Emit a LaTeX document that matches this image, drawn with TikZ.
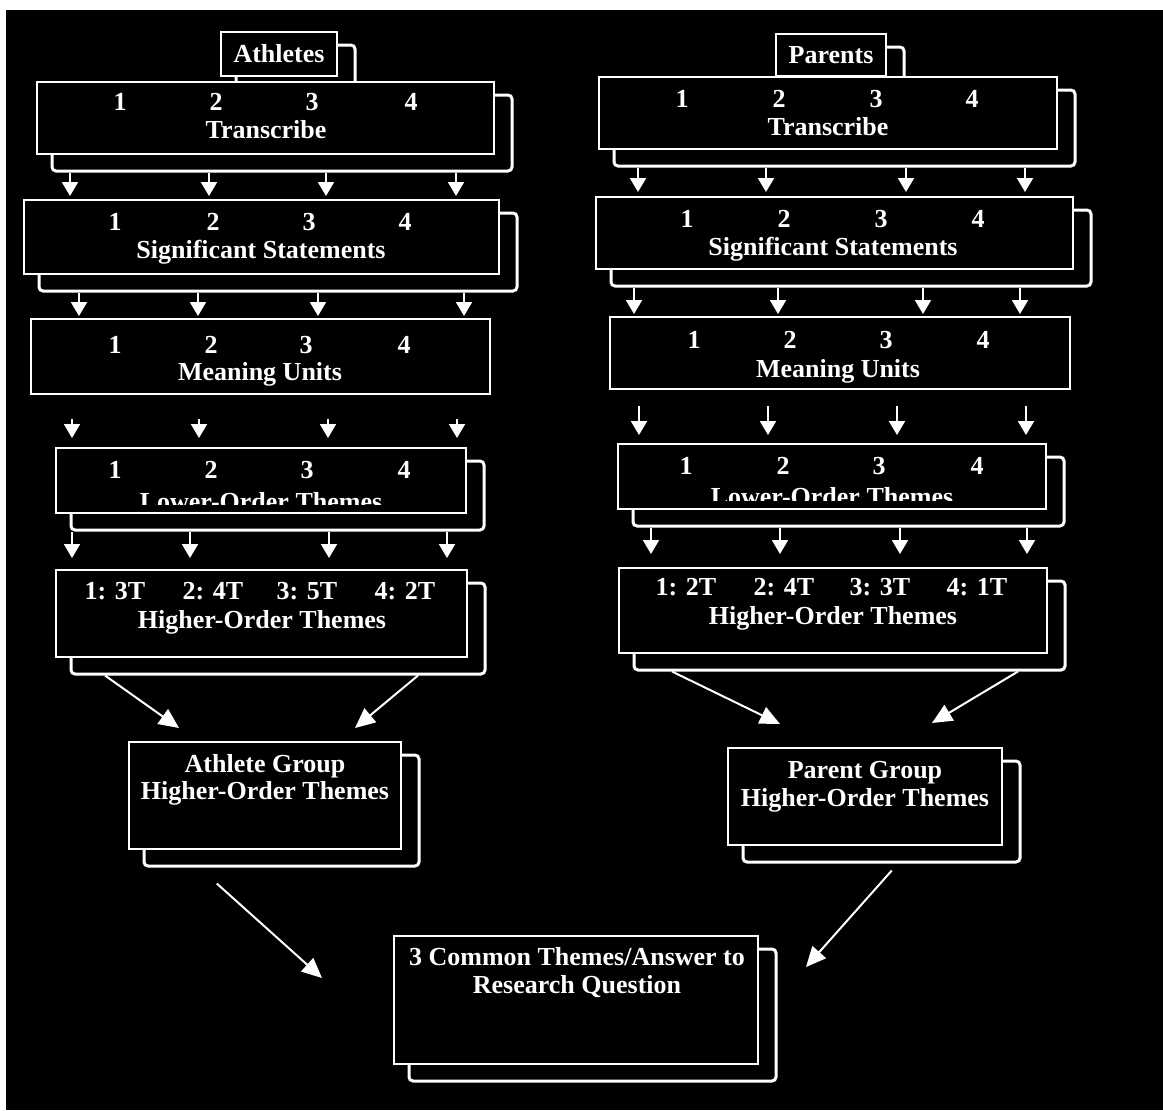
\documentclass[tikz,border=0pt]{standalone}
\usepackage{fontspec}
\setmainfont{Liberation Serif}
\usetikzlibrary{arrows.meta}
\usetikzlibrary{fit}

\tikzset{
	frontbox/.style={draw=white, fill=black, line width=1pt, inner sep=0pt},
	shadowbox/.style={draw=white, line width=1.5pt, rounded corners=2pt, inner sep=0pt},
	txt/.style={text=white, anchor=base, inner sep=0pt, font=\fontsize{13}{16}\selectfont\bfseries},
	arr/.style={draw=white, line width=1pt, -{Triangle[width=8pt,length=7pt]}},
	bigarr/.style={draw=white, line width=1pt, -{Triangle[width=9pt,length=10pt]}}
}

% box with a second sheet behind it
\newcommand\stackbox[5]{%
	\node[shadowbox, fit={(#2+15,#3+13) (#4+18,#5+17)}] (#1sh) {};
	\node[frontbox, fit={(#2,#3) (#4,#5)}] (#1) {};
}

\begin{document}
\begin{tikzpicture}[x=0.5pt, y=-0.5pt]
	\useasboundingbox (0,0) rectangle (1163,1110);
	\fill[white] (0,0) rectangle (1163,1110);
	\fill[black] (6,10) rectangle (1163,1110);

	% athletes
	\stackbox{athA}{221}{32}{337}{76}
	\node[txt] at (279,62) {Athletes};
	\stackbox{trA}{37}{82}{494}{154}
	\foreach \x/\n in {120/1,216/2,312/3,411/4} \node[txt] at (\x,110) {\n};
	\node[txt] at (266,138) {Transcribe};
	\stackbox{ssA}{24}{200}{499}{274}
	\foreach \x/\n in {115/1,213/2,309/3,405/4} \node[txt] at (\x,230) {\n};
	\node[txt] at (261,258) {Significant Statements};
	\node[frontbox, fit={(31,319) (490,394)}] (muA) {};
	\foreach \x/\n in {115/1,211/2,306/3,404/4} \node[txt] at (\x,353) {\n};
	\node[txt] at (260,380) {Meaning Units};
	\stackbox{loA}{56}{448}{466}{513}
	\foreach \x/\n in {115/1,211/2,307/3,404/4} \node[txt] at (\x,478) {\n};
	\begin{scope}
		\clip (56,448) rectangle (466,504);
		\node[txt] at (261,510) {Lower-Order Themes};
	\end{scope}
	\stackbox{hoA}{56}{570}{467}{657}
	\foreach \x/\n in {115/1: 3T,213/2: 4T,307/3: 5T,405/4: 2T} \node[txt] at (\x,599) {\n};
	\node[txt] at (262,628) {Higher-Order Themes};
	\stackbox{agA}{129}{742}{401}{849}
	\node[txt] at (265,772) {Athlete Group};
	\node[txt] at (265,799) {Higher-Order Themes};

	% parents
	\stackbox{parP}{776}{34}{886}{76}
	\node[txt] at (831,63) {Parents};
	\stackbox{trP}{599}{77}{1057}{149}
	\foreach \x/\n in {682/1,779/2,876/3,972/4} \node[txt] at (\x,107) {\n};
	\node[txt] at (828,135) {Transcribe};
	\stackbox{ssP}{596}{197}{1073}{269}
	\foreach \x/\n in {687/1,784/2,881/3,978/4} \node[txt] at (\x,227) {\n};
	\node[txt] at (833,255) {Significant Statements};
	\node[frontbox, fit={(610,317) (1070,389)}] (muP) {};
	\foreach \x/\n in {694/1,790/2,886/3,983/4} \node[txt] at (\x,348) {\n};
	\node[txt] at (838,377) {Meaning Units};
	\stackbox{loP}{618}{444}{1046}{509}
	\foreach \x/\n in {686/1,783/2,879/3,977/4} \node[txt] at (\x,474) {\n};
	\begin{scope}
		\clip (618,444) rectangle (1046,500);
		\node[txt] at (832,505) {Lower-Order Themes};
	\end{scope}
	\stackbox{hoP}{619}{568}{1047}{653}
	\foreach \x/\n in {686/1: 2T,784/2: 4T,880/3: 3T,977/4: 1T} \node[txt] at (\x,595) {\n};
	\node[txt] at (833,624) {Higher-Order Themes};
	\stackbox{pgP}{728}{748}{1002}{845}
	\node[txt] at (865,778) {Parent Group};
	\node[txt] at (865,806) {Higher-Order Themes};

	% both groups
	\stackbox{cmn}{394}{936}{758}{1064}
	\node[txt] at (577,965) {3 Common Themes/Answer to};
	\node[txt] at (577,993) {Research Question};

	% arrows
	\foreach \x in {70,209,326,456} \draw[arr, shorten >=1.5pt] (trAsh.south -| \x,0) -- (ssA.north -| \x,0);
	\foreach \x in {79,198,318,464} \draw[arr, shorten >=1pt] (ssAsh.south -| \x,0) -- (muA.north -| \x,0);
	\foreach \x in {72,199,328,457} \draw[arr, shorten <=12pt, shorten >=4.5pt] (muA.south -| \x,0) -- (loA.north -| \x,0);
	\foreach \x in {72,190,329,447} \draw[arr, shorten >=5.5pt] (loAsh.south -| \x,0) -- (hoA.north -| \x,0);
	\foreach \x in {638,766,906,1025} \draw[arr, shorten >=2pt] (trPsh.south -| \x,0) -- (ssP.north -| \x,0);
	\foreach \x in {634,778,923,1020} \draw[arr, shorten >=1pt] (ssPsh.south -| \x,0) -- (muP.north -| \x,0);
	\foreach \x in {639,768,897,1026} \draw[arr, shorten <=8pt, shorten >=4pt] (muP.south -| \x,0) -- (loP.north -| \x,0);
	\foreach \x in {651,780,900,1027} \draw[arr, shorten >=6.5pt] (loPsh.south -| \x,0) -- (hoP.north -| \x,0);

	\coordinate (agAl) at (179,728);
	\coordinate (agAr) at (355,728);
	\coordinate (pgPl) at (780,724);
	\coordinate (pgPr) at (932,723);
	\coordinate (cmnl) at (322,978);
	\coordinate (cmnr) at (806,967);
	\draw[bigarr] (hoAsh.south -| 105,0) -- (agAl);
	\draw[bigarr] (hoAsh.south -| 418,0) -- (agAr);
	\draw[bigarr] (hoPsh.south -| 672,0) -- (pgPl);
	\draw[bigarr] (hoPsh.south -| 1018,0) -- (pgPr);
	\draw[bigarr, shorten <=12pt] (agAsh.south -| 199,0) -- (cmnl);
	\draw[bigarr, shorten <=4.7pt] (pgPsh.south -| 898,0) -- (cmnr);
\end{tikzpicture}
\end{document}
